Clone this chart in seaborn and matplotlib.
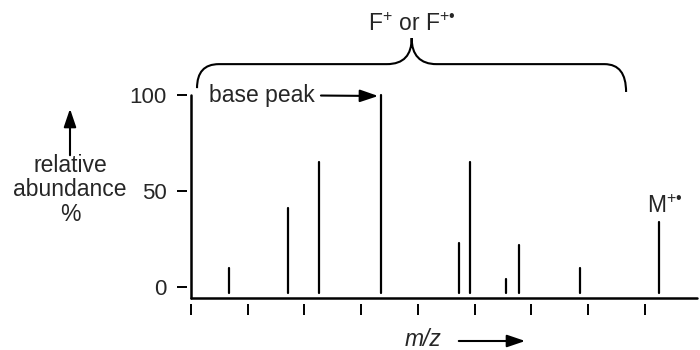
import numpy as np
import pandas as pd
import matplotlib
matplotlib.use("Agg")
import matplotlib.pyplot as plt
import seaborn as sns
from matplotlib.path import Path
from matplotlib.patches import PathPatch, FancyArrowPatch

# peak positions (m/z, arbitrary units) and relative abundance (%)
mz = [6.7, 17.1, 22.6, 33.5, 47.2, 49.2, 55.5, 57.8, 68.5, 82.5]
abundance = [10, 41, 65, 100, 23, 65, 4, 22, 10, 34]
x_ticks = [0, 10, 20, 30, 40, 50, 60, 70, 80]
y_ticks = [0, 50, 100]
y_ticklabels = ["0", "50", "100"]

sns.set_theme(style="ticks")
plt.rcParams['font.family'] = ['Liberation Sans', 'DejaVu Sans']
plt.rcParams['mathtext.fontset'] = 'custom'
plt.rcParams['mathtext.rm'] = 'Liberation Sans'
plt.rcParams['mathtext.it'] = 'Liberation Sans:italic'

FS = 16.5
base = -3  # peaks start just above the drawn axis line
ybot, ytop = -5.7, 149.5

# each peak as a two-point segment
df = pd.DataFrame({
    'peak': np.repeat(np.arange(len(mz)), 2),
    'mz': np.repeat(mz, 2),
    'y': np.ravel([[base, a] for a in abundance]),
})

fig = plt.figure(figsize=(7, 3.5), dpi=100)
ax = fig.add_axes([191 / 700, 52 / 350, 506 / 700, 298 / 350])

sns.lineplot(data=df, x='mz', y='y', units='peak', estimator=None, sort=False,
             color='black', lw=1.6, legend=False, ax=ax)

ax.set_xlim(0, 89.2)
ax.set_ylim(ybot, ytop)
ax.set_xlabel('')
ax.set_ylabel('')

# ticks sit a little away from the axis lines
for s in ['top', 'right']:
    ax.spines[s].set_visible(False)
ax.spines['left'].set_position(('outward', 3))
ax.spines['left'].set_visible(False)
ax.spines['bottom'].set_position(('outward', 4))
ax.spines['bottom'].set_visible(False)

ax.set_yticks(y_ticks)
ax.set_yticklabels(y_ticklabels, fontsize=16)
ax.set_xticks(x_ticks)
ax.set_xticklabels([])
ax.tick_params(axis='y', length=7.5, width=1.4, color='black', pad=7)
ax.tick_params(axis='x', length=8, width=1.4, color='black')

# axis lines
ax.plot([0, 0], [ybot, 100], color='black', lw=1.8, clip_on=False)
ax.plot([0, 89.2], [ybot, ybot], color='black', lw=1.8, clip_on=False)

# brace over the fragment peaks
verts = [(1.06, 103.6), (1.06, 116.1), (4.9, 116.1),
         (34.5, 116.1),
         (37.5, 116.1), (38.9, 120.8), (38.9, 129.7),
         (38.9, 120.8), (40.4, 116.1), (43.3, 116.1),
         (72.9, 116.1),
         (76.7, 116.1), (76.7, 101.6)]
codes = [Path.MOVETO, Path.CURVE3, Path.CURVE3,
         Path.LINETO,
         Path.CURVE4, Path.CURVE4, Path.CURVE4,
         Path.CURVE4, Path.CURVE4, Path.CURVE4,
         Path.LINETO,
         Path.CURVE3, Path.CURVE3]
ax.add_patch(PathPatch(Path(verts, codes), fill=False, lw=1.5, color='black', clip_on=False))
ax.text(38.9, 137, 'F$^{+}$ or F$^{+•}$', ha='center', va='center', fontsize=FS)

arrow = '-|>,head_length=0.5,head_width=0.17'
ax.annotate('base peak', xy=(33.0, 99.5), xytext=(3.2, 100), va='center', fontsize=FS,
            arrowprops=dict(arrowstyle=arrow, color='black', lw=1.5, shrinkA=2, shrinkB=0,
                            mutation_scale=22))
ax.text(83.5, 42, 'M$^{+•}$', ha='center', va='center', fontsize=FS)

# y label with upward arrow
fig.text(70 / 700, 1 - 190 / 350, 'relative\nabundance\n%', ha='center', va='center',
         fontsize=FS, linespacing=1.08)
fig.add_artist(FancyArrowPatch(
    (70 / 700, 1 - 158 / 350), (70 / 700, 1 - 106 / 350), transform=fig.transFigure,
    arrowstyle=arrow, mutation_scale=22, color='black', lw=1.5))

# x label with arrow
fig.text(423 / 700, 1 - 339 / 350, 'm/z', ha='center', va='center', fontsize=FS, style='italic')
fig.add_artist(FancyArrowPatch(
    (456 / 700, 1 - 341 / 350), (528 / 700, 1 - 341 / 350), transform=fig.transFigure,
    arrowstyle=arrow, mutation_scale=22, color='black', lw=1.5))

fig.savefig('out.png', dpi=100)
